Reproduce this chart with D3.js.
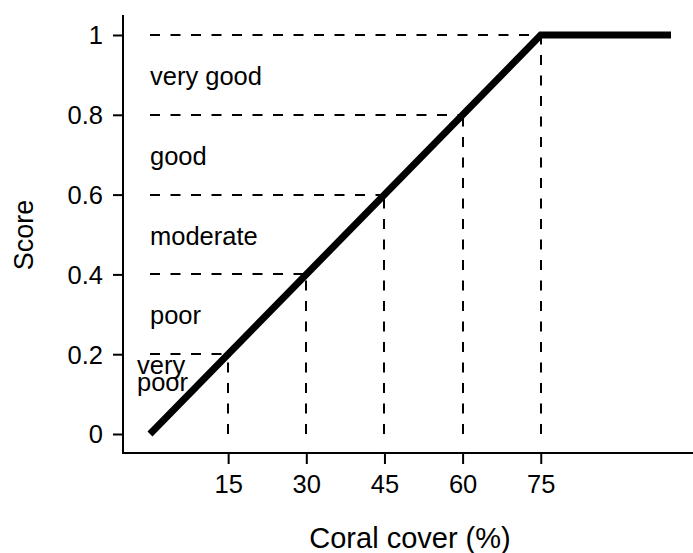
<!DOCTYPE html>
<html>
<head>
<meta charset="utf-8">
<script src="https://cdn.jsdelivr.net/npm/d3@7"></script>
<style>
  html, body { margin: 0; padding: 0; background: #fff; }
  svg { display: block; font-family: "Liberation Sans", Arial, sans-serif; }
</style>
</head>
<body>
<script>
// ---- data ----
const coverBreaks = [0, 75, 100];          // coral cover (%) at line vertices
const scoreBreaks = [0, 1, 1];             // score at line vertices
const xTicks = [15, 30, 45, 60, 75];
const xTickLabels = ["15", "30", "45", "60", "75"];
const yTicks = [0, 0.2, 0.4, 0.6, 0.8, 1];
const yTickLabels = ["0", "0.2", "0.4", "0.6", "0.8", "1"];
const guideScores = [0.2, 0.4, 0.6, 0.8, 1];
const guideCovers = [15, 30, 45, 60, 75];
const categories = ["very poor", "poor", "moderate", "good", "very good"];
const categoryMid = [0.1, 0.3, 0.5, 0.7, 0.9];

const W = 693, H = 553;
const svg = d3.select("body").append("svg").attr("width", W).attr("height", H);

const x = d3.scaleLinear().domain([0, 100]).range([150, 671]);
const y = d3.scaleLinear().domain([0, 1]).range([434, 35]);
const xr = v => Math.round(x(v));
const yr = v => Math.round(y(v));

const plotLeft = 123, plotTop = 15, plotBottom = 453, plotRight = 693;
const fsTick = 25.5, fsTitle = 29;

// dashed guides
const guides = svg.append("g").attr("stroke", "#000").attr("stroke-width", 2)
  .attr("stroke-dasharray", "10,10.5").attr("fill", "none");
guideScores.forEach((s, i) => {
  guides.append("line").attr("x1", xr(0)).attr("x2", xr(guideCovers[i]))
    .attr("y1", yr(s)).attr("y2", yr(s));
});
guideCovers.forEach((c, i) => {
  guides.append("line").attr("x1", xr(c)).attr("x2", xr(c))
    .attr("y1", yr(0)).attr("y2", yr(guideScores[i]));
});

// category labels
const labelG = svg.append("g").attr("font-size", fsTick).attr("fill", "#000");
categories.forEach((c, i) => {
  if (c === "very poor") {
    const t = labelG.append("text").attr("x", x(0) - 13).attr("y", y(categoryMid[i]) - 20);
    t.append("tspan").attr("x", x(0) - 13).attr("dy", 0).text("very");
    t.append("tspan").attr("x", x(0) - 13).attr("dy", 17).text("poor");
  } else {
    labelG.append("text").attr("x", x(0)).attr("y", y(categoryMid[i]) + 10).text(c);
  }
});

// main line
const pts = coverBreaks.map((c, i) => [c, scoreBreaks[i]]);
svg.append("path")
  .attr("d", d3.line().x(d => x(d[0])).y(d => y(d[1]))(pts))
  .attr("fill", "none").attr("stroke", "#000").attr("stroke-width", 7)
  .attr("stroke-linejoin", "miter").attr("stroke-linecap", "butt");

// axes
const axG = svg.append("g").attr("stroke", "#000").attr("stroke-width", 2);
axG.append("line").attr("x1", plotLeft).attr("x2", plotLeft).attr("y1", plotTop).attr("y2", plotBottom + 1);
axG.append("line").attr("x1", plotLeft - 1).attr("x2", plotRight).attr("y1", plotBottom).attr("y2", plotBottom);

const yAxis = d3.axisLeft(y).tickValues(yTicks).tickSize(10).tickPadding(10)
  .tickFormat((d, i) => yTickLabels[i]);
const ya = svg.append("g").attr("transform", `translate(${plotLeft},0)`).call(yAxis);
ya.select(".domain").remove();
ya.selectAll("line").attr("stroke-width", 2);
ya.selectAll("text").attr("font-size", fsTick).attr("font-family", "Liberation Sans, Arial, sans-serif").attr("dy", "0.35em");

const xAxis = d3.axisBottom(x).tickValues(xTicks).tickSize(11).tickPadding(11)
  .tickFormat((d, i) => xTickLabels[i]);
const xa = svg.append("g").attr("transform", `translate(0,${plotBottom})`).call(xAxis);
xa.select(".domain").remove();
xa.selectAll("line").attr("stroke-width", 2);
xa.selectAll("text").attr("font-size", fsTick).attr("font-family", "Liberation Sans, Arial, sans-serif");

// axis titles
svg.append("text").attr("x", 410).attr("y", 548).attr("text-anchor", "middle")
  .attr("font-size", fsTitle).text("Coral cover (%)");
svg.append("text").attr("transform", "translate(33,235) rotate(-90)").attr("text-anchor", "middle")
  .attr("font-size", 27).text("Score");
</script>
</body>
</html>
